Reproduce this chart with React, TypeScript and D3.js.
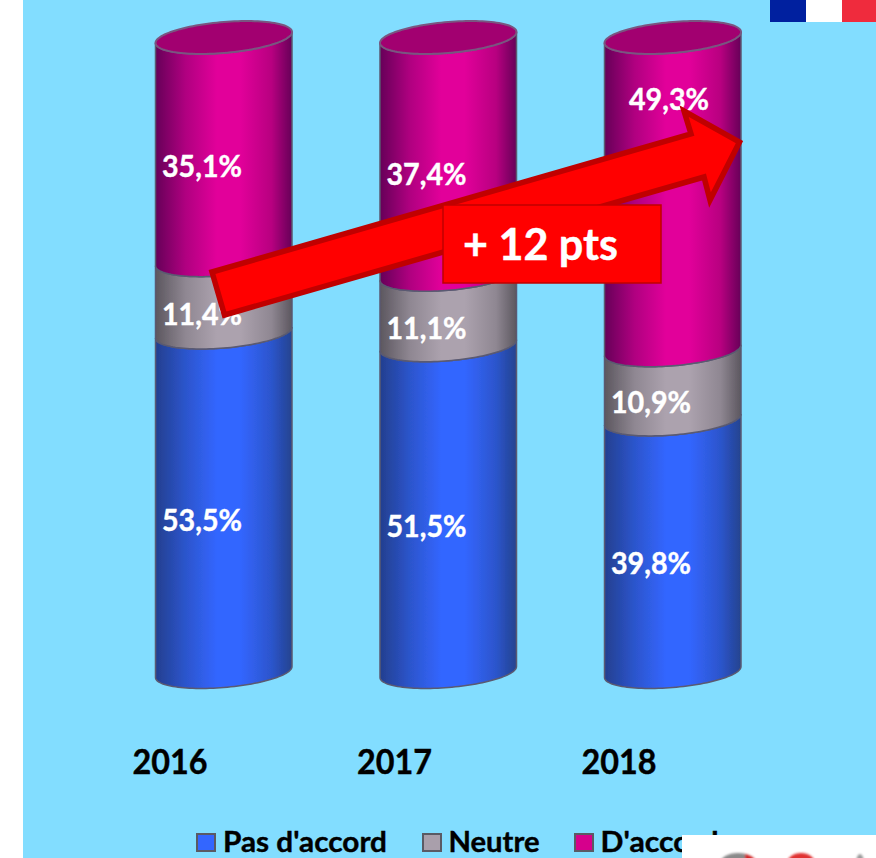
import React from "react";
import * as d3 from "d3";

const years = ["2016", "2017", "2018"];
const seriesNames = ["Pas d'accord", "Neutre", "D'accord"];
const pasDaccord = [53.5, 51.5, 39.8];
const neutre = [11.4, 11.1, 10.9];
const daccord = [35.1, 37.4, 49.3];
const labelsPas = ["53,5%", "51,5%", "39,8%"];
const labelsNeutre = ["11,4%", "11,1%", "10,9%"];
const labelsDaccord = ["35,1%", "37,4%", "49,3%"];

const FONT = "Lato, Carlito, sans-serif";
const y = d3.scaleLinear().domain([0, 100]).range([672, 37.5]);
const x = d3.scalePoint().domain(years).range([155.5, 604.5]);
const W = 136.5;
const B = 15.5;
const K = 5.5;

const colors = [
  { id: "gBlue", c: ["#233f8f", "#2c55cc", "#3366ff", "#3366ff", "#2c55cc", "#24438f"], legend: "#3366ff" },
  { id: "gGray", c: ["#5c575f", "#8f8792", "#aca2ae", "#aca2ae", "#8f8792", "#5c575f"], legend: "#a99fab" },
  { id: "gMag", c: ["#660058", "#b00080", "#e2009a", "#e2009a", "#b80080", "#660058"], legend: "#d6008c" },
];
const stopsAt = ["0%", "22%", "45%", "62%", "85%", "100%"];

function bandPath(x0: number, yB: number, yT: number) {
  const a = W / 2;
  const cx = x0 + a;
  const pts: [number, number][] = [];
  const n = 60;
  for (let i = 0; i <= n; i++) {
    const t = (Math.PI * i) / n;
    pts.push([cx + a * Math.cos(t), yT + B * Math.sin(t) - K * Math.cos(t)]);
  }
  for (let i = n; i >= 0; i--) {
    const t = (Math.PI * i) / n;
    pts.push([cx + a * Math.cos(t), yB + B * Math.sin(t) - K * Math.cos(t)]);
  }
  return (d3.line()(pts) || "") + "Z";
}

function capPath(x0: number, yc: number) {
  const a = W / 2;
  const cx = x0 + a;
  const pts: [number, number][] = d3.range(0, 121).map((i) => {
    const t = (2 * Math.PI * i) / 120;
    return [cx + a * Math.cos(t), yc + B * Math.sin(t) - K * Math.cos(t)] as [number, number];
  });
  return (d3.line()(pts) || "") + "Z";
}

const arrowPts: [number, number][] = [
  [212, 272], [691, 134], [684, 111], [739.5, 142], [710, 200], [704, 177], [224.5, 315],
];

function T(props: { x: number; y: number; w: number; size: number; fill: string; children: string }) {
  return (
    <text
      x={props.x}
      y={props.y}
      fontFamily={FONT}
      fontWeight={700}
      fontSize={props.size}
      fill={props.fill}
      stroke={props.fill}
      strokeWidth={0.4}
      textLength={props.w}
      lengthAdjust="spacingAndGlyphs"
    >
      {props.children}
    </text>
  );
}

export default function App() {
  const series = [pasDaccord, neutre, daccord];
  const labels = [labelsPas, labelsNeutre, labelsDaccord];
  const legendSq = [196, 422, 574];
  const legendTx = [223, 448.5, 600.5];
  const legendW = [164, 91, 118];
  return (
    <svg
      width={876}
      height={858}
      style={{ position: "absolute", left: 0, top: 0, display: "block" }}
    >
      <defs>
        {colors.map((g) => (
          <linearGradient key={g.id} id={g.id} x1="0" x2="1" y1="0" y2="0">
            {g.c.map((c, i) => (
              <stop key={i} offset={stopsAt[i]} stopColor={c} />
            ))}
          </linearGradient>
        ))}
        <filter id="soft" x="-5%" y="-5%" width="110%" height="110%">
          <feGaussianBlur stdDeviation="0.5" />
        </filter>
        <filter id="soft2" x="-20%" y="-50%" width="140%" height="200%">
          <feGaussianBlur stdDeviation="0.8" />
        </filter>
      </defs>
      <rect x={0} y={0} width={876} height={858} fill="#ffffff" />
      <rect x={23} y={0} width={853} height={858} fill="#82ddff" />

      {years.map((yr, i) => {
        const x0 = x(yr) as number;
        let acc = 0;
        return (
          <g key={yr} filter="url(#soft)">
            {series.map((s, j) => {
              const yB = y(acc);
              acc += s[i];
              const yT = y(acc);
              return (
                <path
                  key={j}
                  d={bandPath(x0, yB, yT)}
                  fill={`url(#${colors[j].id})`}
                  stroke="#5a5a72"
                  strokeWidth={1.5}
                />
              );
            })}
            <path d={capPath(x0, y(acc))} fill="#a20070" stroke="#7a5580" strokeWidth={2} />
          </g>
        );
      })}

      {years.map((yr, i) => {
        const x0 = x(yr) as number;
        let acc = 0;
        return (
          <g key={yr}>
            {series.map((s, j) => {
              const mid = y(acc + s[i] / 2);
              acc += s[i];
              const moved = i === 2 && j === 2;
              return (
                <T
                  key={j}
                  x={x0 + (moved ? 24.5 : 6.5)}
                  y={mid + (moved ? -84 : 28.5)}
                  w={80}
                  size={29.5}
                  fill="#ffffff"
                >
                  {labels[j][i]}
                </T>
              );
            })}
            <T x={x0 - 23} y={773.5} w={75} size={35} fill="#000000">
              {yr}
            </T>
          </g>
        );
      })}

      <polygon
        points={arrowPts.map((p) => p.join(",")).join(" ")}
        fill="#ff0000"
        stroke="#c00000"
        strokeWidth={5.5}
        strokeLinejoin="miter"
        strokeMiterlimit={10}
      />
      <rect x={443} y={205} width={218} height={78} fill="#ff0000" stroke="#c00000" strokeWidth={1.5} />
      <T x={463} y={260} w={155} size={43} fill="#ffffff">
        + 12 pts
      </T>

      <rect x={770} y={0} width={36} height={22} fill="#00209f" />
      <rect x={806} y={0} width={36} height={22} fill="#ffffff" />
      <rect x={842} y={0} width={34} height={22} fill="#ef2b3d" />

      {seriesNames.map((n, i) => (
        <g key={n}>
          <rect
            x={legendSq[i] + 1}
            y={834}
            width={18}
            height={17}
            fill={colors[i].legend}
            stroke="#5a5a64"
            strokeWidth={2}
          />
          <T x={legendTx[i]} y={851.5} w={legendW[i]} size={29} fill="#000000">
            {n}
          </T>
        </g>
      ))}

      <rect x={682} y={835} width={194} height={23} fill="#ffffff" />
      <g filter="url(#soft2)">
        <ellipse cx={738} cy={863} rx={18} ry={10} fill="#8a8a8a" />
        <path d="M745,854 A18,10 0 0 1 756,863 L745,863 Z" fill="#d62828" />
        <ellipse cx={801} cy={863} rx={14} ry={10} fill="#e03030" />
        <ellipse cx={860} cy={863} rx={4} ry={9} fill="#9a9a9a" />
      </g>
    </svg>
  );
}
